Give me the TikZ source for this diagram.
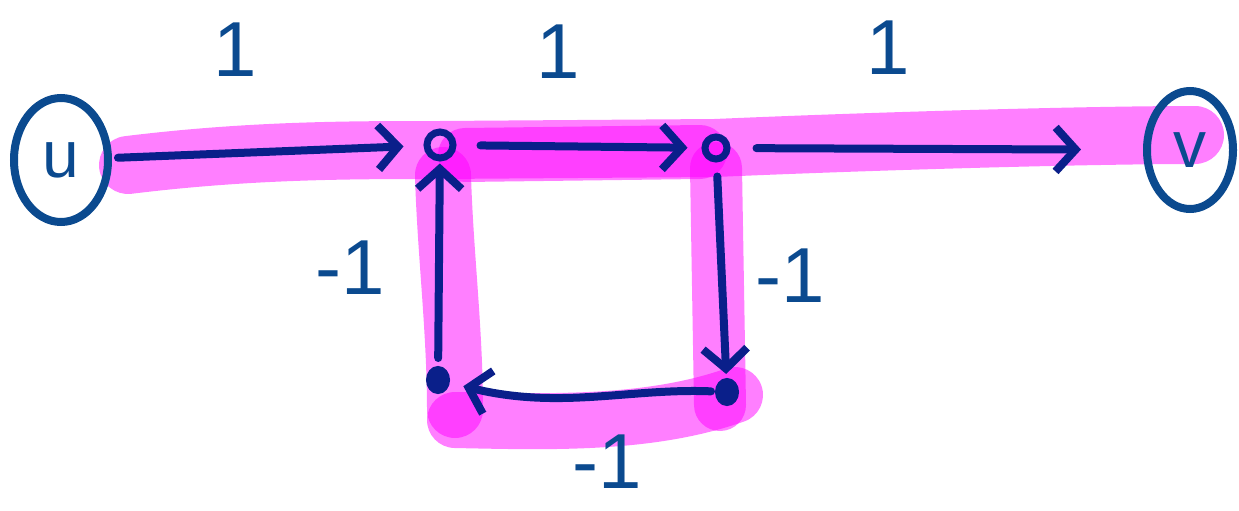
\documentclass[tikz,border=0pt]{standalone}
\usepackage{fontspec}
\setmainfont{Liberation Sans}
\usetikzlibrary{arrows.meta,shapes.geometric}
\definecolor{ink}{HTML}{0B4A8F}
\definecolor{navy}{HTML}{0A1F8A}
\definecolor{hl}{HTML}{FF00FF}
\tikzset{
  hilite/.style={draw=hl, draw opacity=0.5, line cap=round, line join=round},
  vtx/.style={circle, draw=navy, line width=7pt, minimum size=26pt, inner sep=0pt},
  blob/.style={ellipse, draw=navy, fill=navy, line width=6pt, minimum width=18pt, minimum height=22pt, inner sep=0pt},
  term/.style={ellipse, draw=ink, line width=8pt, inner sep=0pt, text=ink, font=\fontsize{66}{66}\selectfont},
  arr/.style={draw=navy, line width=8pt, line cap=round, -{Straight Barb[length=20pt,width=44pt,line width=8pt]}},
  wt/.style={text=ink, font=\fontsize{78}{78}\selectfont, inner sep=0pt}
}
\begin{document}
\begin{tikzpicture}[x=1pt,y=-1pt]
\useasboundingbox (0,0) rectangle (1239,511);
% highlight strokes
\draw[hilite, line width=58pt] (128,165) .. controls (250,150) and (350,150) .. (440,150) -- (715,148) .. controls (900,140) and (1100,135) .. (1195,135);
\draw[hilite, line width=54pt] (465,155) -- (700,152);
\draw[hilite, line width=52pt] (716,168) -- (720,405);
\draw[hilite, line width=56pt] (443,175) .. controls (445,250) and (455,330) .. (455,410);
\draw[hilite, line width=56pt] (455,420) .. controls (550,422) and (650,425) .. (735,395);
% vertices
\node[term, minimum width=94pt, minimum height=124pt] (u) at (61,160) {u};
\node[term, minimum width=86pt, minimum height=118pt] (v) at (1190,150) {v};
\node[vtx] (a) at (440,145) {};
\node[vtx, minimum size=22pt] (b) at (716,148) {};
\node[blob] (c) at (727,392) {};
\node[blob] (d) at (438,380) {};
% arrows
\draw[arr, shorten <=6pt, shorten >=20pt] (u) -- (a);
\draw[arr, shorten <=24pt, shorten >=14pt] (a) -- (b);
\draw[arr, shorten <=26pt, shorten >=62pt] (b) -- (v);
\draw[arr, shorten <=14pt, shorten >=4pt] (b) -- (c);
\draw[arr, shorten <=4pt, shorten >=14pt] (c) .. controls (630,388) and (560,410) .. (d);
\draw[arr, shorten <=8pt, shorten >=2pt] (d) -- (a);
% weights
\node[wt] (w1) at (235,50) {1};
\node[wt] (w2) at (558,52) {1};
\node[wt] (w3) at (888,48) {1};
\node[wt] (w4) at (350,268) {-1};
\node[wt] (w5) at (790,276) {-1};
\node[wt] (w6) at (607,462) {-1};
\end{tikzpicture}
\end{document}
